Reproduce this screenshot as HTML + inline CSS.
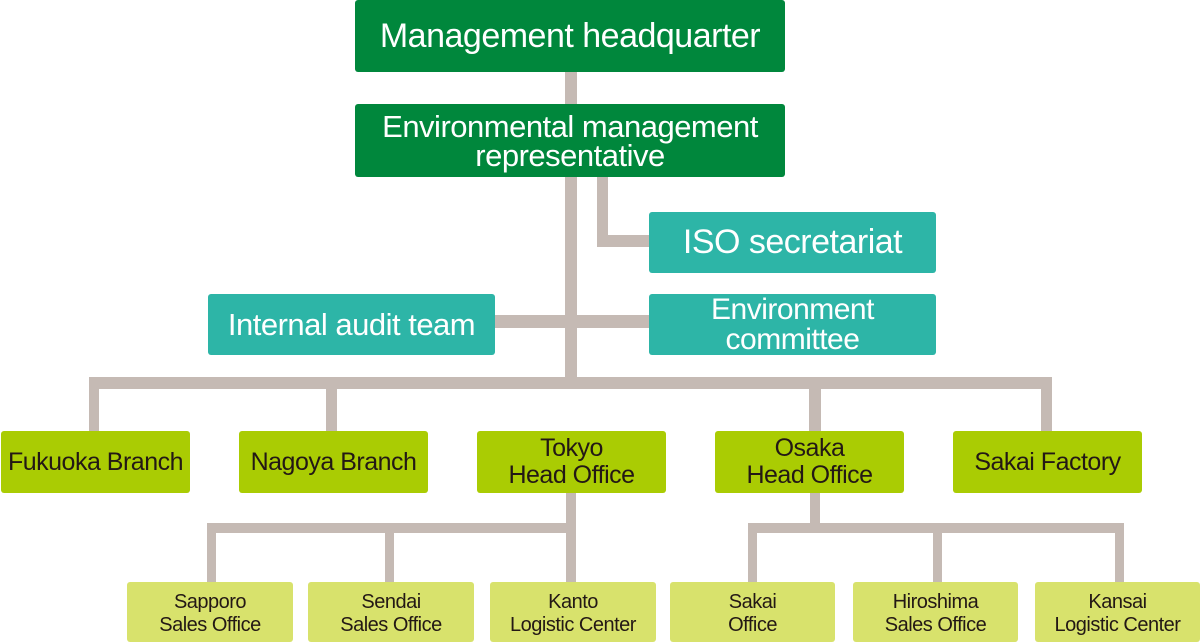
<!DOCTYPE html>
<html><head><meta charset="utf-8"><style>
body{margin:0;width:1200px;height:635px;background:#fff;position:relative;overflow:hidden;font-family:"Liberation Sans","DejaVu Sans",sans-serif}
.l{position:absolute;background:#c5bab4}
.b{position:absolute;display:flex;align-items:center;justify-content:center;text-align:center;border-radius:3px;box-sizing:border-box;letter-spacing:-0.5px}
.d{background:#00873c;color:#fff}
.t{background:#2db5a7;color:#fff}
.g{background:#aacc03;color:#231815;font-size:25px;line-height:27px}
.s{background:#d8e26c;color:#231815;font-size:20px;line-height:23px;padding-top:4px}
</style></head><body>
<!-- lines -->
<div class="l" style="left:565px;top:70px;width:12px;height:310px"></div>
<div class="l" style="left:597px;top:175px;width:11px;height:72px"></div>
<div class="l" style="left:597px;top:235px;width:55px;height:12px"></div>
<div class="l" style="left:490px;top:315px;width:162px;height:13px"></div>
<div class="l" style="left:89px;top:377px;width:963px;height:12px"></div>
<div class="l" style="left:89px;top:377px;width:10px;height:56px"></div>
<div class="l" style="left:326px;top:377px;width:11px;height:56px"></div>
<div class="l" style="left:809px;top:377px;width:12px;height:56px"></div>
<div class="l" style="left:1041px;top:377px;width:11px;height:56px"></div>
<div class="l" style="left:566px;top:490px;width:10px;height:94px"></div>
<div class="l" style="left:207px;top:523px;width:369px;height:10px"></div>
<div class="l" style="left:207px;top:523px;width:9px;height:61px"></div>
<div class="l" style="left:385px;top:523px;width:9px;height:61px"></div>
<div class="l" style="left:810px;top:490px;width:10px;height:40px"></div>
<div class="l" style="left:748px;top:523px;width:375px;height:10px"></div>
<div class="l" style="left:748px;top:523px;width:9px;height:61px"></div>
<div class="l" style="left:933px;top:523px;width:9px;height:61px"></div>
<div class="l" style="left:1115px;top:523px;width:9px;height:61px"></div>
<!-- boxes -->
<div class="b d" style="left:355px;top:0;width:430px;height:72px;font-size:34px">Management headquarter</div>
<div class="b d" style="left:355px;top:104px;width:430px;height:73px;font-size:31px;line-height:29px">Environmental management<br>representative</div>
<div class="b t" style="left:649px;top:212px;width:287px;height:61px;font-size:34px">ISO secretariat</div>
<div class="b t" style="left:208px;top:294px;width:287px;height:61px;font-size:31px">Internal audit team</div>
<div class="b t" style="left:649px;top:294px;width:287px;height:61px;font-size:30px;line-height:30px">Environment<br>committee</div>
<div class="b g" style="left:1px;top:431px;width:189px;height:62px">Fukuoka Branch</div>
<div class="b g" style="left:239px;top:431px;width:189px;height:62px">Nagoya Branch</div>
<div class="b g" style="left:477px;top:431px;width:189px;height:62px">Tokyo<br>Head Office</div>
<div class="b g" style="left:715px;top:431px;width:189px;height:62px">Osaka<br>Head Office</div>
<div class="b g" style="left:953px;top:431px;width:189px;height:62px">Sakai Factory</div>
<div class="b s" style="left:127px;top:582px;width:166px;height:60px">Sapporo<br>Sales Office</div>
<div class="b s" style="left:308px;top:582px;width:166px;height:60px">Sendai<br>Sales Office</div>
<div class="b s" style="left:490px;top:582px;width:166px;height:60px">Kanto<br>Logistic Center</div>
<div class="b s" style="left:670px;top:582px;width:165px;height:60px">Sakai<br>Office</div>
<div class="b s" style="left:853px;top:582px;width:165px;height:60px">Hiroshima<br>Sales Office</div>
<div class="b s" style="left:1035px;top:582px;width:165px;height:60px">Kansai<br>Logistic Center</div>
</body></html>
